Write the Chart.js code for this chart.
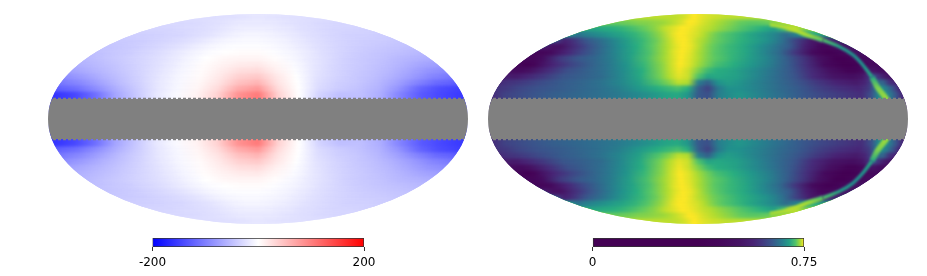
<!DOCTYPE html>
<html>
<head>
<meta charset="utf-8">
<title>Mollweide maps</title>
<script src="https://cdn.jsdelivr.net/npm/chart.js@4"></script>
<style>
    body { margin: 0; background: #fff; }
    canvas { position: absolute; }
</style>
</head>
<body>
<canvas id="leftMap" width="436" height="226" style="left:40px;top:6px"></canvas>
<canvas id="rightMap" width="436" height="226" style="left:480px;top:6px"></canvas>
<canvas id="leftBar" width="280" height="38" style="left:120px;top:230px"></canvas>
<canvas id="rightBar" width="280" height="38" style="left:560px;top:230px"></canvas>
<script>
// Mollweide y of each row, north side only (the south side is drawn from the same rows)
const rowY = [0.971, 0.914, 0.857, 0.8, 0.743, 0.686, 0.629, 0.571, 0.514, 0.457, 0.4, 0.343, 0.286, 0.229];

// Left map: longitude as a fraction of the row half width
const leftLon = [-1, -0.9, -0.8, -0.7, -0.6, -0.5, -0.4, -0.3, -0.2, -0.1, 0, 0.1, 0.2, 0.3, 0.4, 0.5, 0.6, 0.7, 0.8, 0.9, 1];
const leftRows = [
    [-26, -26, -25, -25, -24, -24, -23, -22, -21, -20, -20, -20, -21, -21, -22, -23, -23, -24, -24, -25, -26],
    [-30, -30, -29, -28, -26, -24, -22, -20, -18, -17, -17, -18, -19, -21, -23, -25, -27, -29, -30, -31, -32],
    [-33, -33, -32, -30, -28, -26, -23, -19, -15, -13, -13, -14, -17, -20, -24, -27, -30, -32, -33, -34, -35],
    [-38, -37, -35, -33, -31, -27, -23, -17, -12, -9, -9, -11, -14, -19, -24, -28, -32, -35, -36, -37, -39],
    [-42, -41, -38, -34, -30, -25, -19, -12, -7, -5, -5, -8, -12, -18, -24, -30, -34, -37, -39, -41, -44],
    [-46, -43, -39, -34, -28, -22, -14, -7, -3, -2, -2, -5, -10, -17, -25, -31, -36, -40, -43, -46, -49],
    [-50, -45, -40, -33, -27, -18, -10, -3, 1, 3, 3, -2, -8, -16, -26, -33, -39, -44, -48, -52, -56],
    [-55, -48, -41, -34, -27, -18, -9, 0, 6, 9, 9, 2, -6, -17, -27, -36, -42, -47, -54, -60, -64],
    [-62, -54, -46, -37, -28, -18, -8, 2, 10, 16, 17, 7, -4, -18, -29, -38, -44, -51, -60, -70, -76],
    [-72, -62, -52, -41, -30, -18, -7, 3, 14, 25, 28, 12, -2, -20, -31, -40, -47, -56, -68, -82, -90],
    [-88, -75, -60, -46, -32, -18, -6, 4, 18, 36, 42, 18, -1, -22, -33, -42, -50, -62, -78, -95, -105],
    [-105, -92, -72, -52, -35, -18, -6, 6, 22, 48, 58, 22, 0, -25, -37, -44, -55, -72, -95, -115, -125],
    [-125, -112, -88, -62, -40, -20, -6, 8, 28, 65, 80, 28, 0, -28, -40, -48, -60, -85, -120, -140, -150],
    [-160, -145, -115, -72, -45, -20, -5, 10, 35, 85, 105, 35, 0, -35, -50, -50, -65, -100, -130, -145, -155]
];

// Right map: colour position 0-100 along the viridis ramp
const rightLon = [-1, -0.95, -0.9, -0.8, -0.7, -0.6, -0.5, -0.4, -0.3, -0.2, -0.15, -0.1, -0.05, 0, 0.05, 0.1, 0.15, 0.2, 0.3, 0.4, 0.5, 0.6, 0.7, 0.8, 0.85, 0.88, 0.91, 0.94, 0.97, 1];
const rightRows = [
    [90, 90, 90, 90, 90, 90, 90, 91, 93, 96, 98, 100, 100, 98, 97, 96, 95, 94, 93, 92, 91, 90, 90, 90, 90, 90, 90, 90, 90, 90],
    [76, 76, 77, 78, 80, 81, 83, 85, 89, 94, 97, 100, 99, 97, 94, 92, 90, 88, 84, 80, 76, 74, 74, 76, 78, 80, 82, 84, 86, 88],
    [58, 58, 60, 62, 65, 70, 76, 82, 91, 97, 100, 99, 97, 94, 91, 89, 86, 83, 78, 72, 67, 62, 56, 70, 85, 88, 88, 85, 82, 80],
    [45, 38, 42, 47, 53, 58, 65, 73, 83, 96, 100, 99, 96, 93, 88, 82, 77, 73, 67, 60, 53, 46, 35, 45, 55, 60, 60, 60, 55, 50],
    [18, 10, 14, 26, 35, 45, 56, 66, 77, 91, 98, 100, 96, 90, 85, 79, 75, 71, 64, 57, 49, 37, 20, 8, 6, 8, 10, 10, 10, 10],
    [8, 5, 5, 15, 26, 38, 50, 62, 75, 88, 95, 100, 97, 90, 82, 76, 71, 67, 60, 50, 40, 28, 10, 2, 2, 3, 4, 4, 6, 6],
    [2, 2, 3, 12, 23, 34, 46, 58, 71, 86, 95, 100, 96, 88, 81, 74, 70, 66, 58, 46, 34, 16, 3, 0, 1, 2, 3, 4, 5, 5],
    [2, 2, 4, 18, 27, 33, 42, 55, 70, 85, 93, 100, 95, 88, 80, 74, 70, 65, 55, 45, 32, 18, 5, 0, 0, 1, 2, 3, 3, 3],
    [2, 0, 2, 12, 21, 30, 39, 51, 66, 82, 92, 100, 95, 86, 78, 70, 66, 62, 52, 42, 29, 15, 3, 0, 0, 1, 2, 3, 3, 3],
    [4, 3, 5, 14, 24, 30, 37, 48, 62, 80, 90, 98, 92, 80, 68, 62, 60, 57, 47, 38, 27, 14, 5, 1, 1, 3, 6, 6, 4, 4],
    [9, 8, 11, 18, 26, 30, 35, 46, 60, 78, 88, 96, 92, 72, 58, 60, 58, 56, 46, 36, 26, 13, 6, 4, 6, 12, 25, 15, 8, 6],
    [14, 16, 18, 23, 28, 32, 37, 45, 56, 72, 80, 90, 88, 42, 30, 50, 55, 52, 43, 35, 27, 18, 11, 8, 12, 22, 35, 32, 15, 12],
    [16, 18, 21, 25, 28, 32, 36, 42, 52, 62, 66, 70, 62, 30, 20, 40, 50, 50, 43, 35, 28, 20, 15, 12, 18, 35, 50, 40, 25, 12],
    [14, 20, 22, 26, 30, 33, 36, 40, 46, 54, 58, 60, 52, 28, 24, 42, 48, 52, 44, 36, 28, 22, 18, 14, 25, 45, 55, 40, 25, 12]
];

// Right map: the thin bright arc near the right edge (axis units, colour position)
const arcX = [0.686, 0.876, 1.038, 1.19, 1.352, 1.476, 1.571, 1.657, 1.714, 1.781, 1.81];
const arcY = [0.905, 0.867, 0.8, 0.752, 0.686, 0.61, 0.514, 0.4, 0.295, 0.21, 0.17];
const arcColourPos = [84, 90, 86, 72, 55, 48, 50, 60, 80, 84, 84];

// Colour bars
const leftBarTicks = [-200, 200];
const leftBarStops = [-200, 0, 200];
const rightBarTicks = [0, 0.75];
const rightBarStops = [0, 0.375, 0.45, 0.525, 0.57, 0.6, 0.6375, 0.675, 0.6975, 0.72, 0.735, 0.75];
const rightBarColourPos = [0, 0, 2, 6, 11, 17, 27, 43, 56, 72, 85, 100];

const viridis = ['#440154', '#482878', '#3b528b', '#2c728e', '#21918c', '#28ae80', '#5ec962', '#addc30', '#fde725'];
const maskColour = '#808080';

function hexToRgb(hex) {
    return [1, 3, 5].map(i => parseInt(hex.substr(i, 2), 16));
}

// colour position 0-100 -> viridis
function viridisColour(pos) {
    const p = Math.max(0, Math.min(100, pos)) / 100 * (viridis.length - 1);
    const i = Math.min(Math.floor(p), viridis.length - 2);
    const a = hexToRgb(viridis[i]);
    const b = hexToRgb(viridis[i + 1]);
    const rgb = a.map((c, k) => Math.round(c + (b[k] - c) * (p - i)));
    return `rgb(${rgb.join(',')})`;
}

// value -200..200 -> blue, white, red
function bwrColour(v) {
    const c = Math.round(255 * (1 - Math.min(Math.abs(v), 200) / 200));
    return v < 0 ? `rgb(${c},${c},255)` : `rgb(255,${c},${c})`;
}

// Each row is a thick line whose stroke is a gradient with one stop per reading
function rowGradient(context, lon, values, halfWidth, colourFn) {
    const chart = context.chart;
    if (!chart.chartArea) return '#ffffff';
    const xScale = chart.scales.x;
    const x0 = xScale.getPixelForValue(-halfWidth);
    const x1 = xScale.getPixelForValue(halfWidth);
    const gradient = chart.ctx.createLinearGradient(x0, 0, x1, 0);
    lon.forEach((f, i) => gradient.addColorStop((f + 1) / 2, colourFn(values[i])));
    return gradient;
}

// The stroke runs on towards the equator so the next row is painted over it
function rowDataset(y, side, lon, values, colourFn, width, order) {
    const halfWidth = 2 * Math.sqrt(1 - y * y);
    const drawY = side * y - side * (width - 7) / 2 / 105;
    return {
        data: [{ x: -2, y: drawY }, ...lon.map(f => ({ x: f * halfWidth, y: drawY })), { x: 2, y: drawY }],
        borderColor: context => rowGradient(context, lon, values, halfWidth, colourFn),
        borderWidth: width,
        order: order
    };
}

function arcGradient(context, side) {
    const chart = context.chart;
    if (!chart.chartArea) return '#ffffff';
    const yScale = chart.scales.y;
    const first = arcY[0];
    const last = arcY[arcY.length - 1];
    const gradient = chart.ctx.createLinearGradient(0, yScale.getPixelForValue(side * first), 0, yScale.getPixelForValue(side * last));
    arcY.forEach((y, i) => gradient.addColorStop((first - y) / (first - last), viridisColour(arcColourPos[i])));
    return gradient;
}

// start/end pick a stretch of the arc, it is wider at both ends than in the middle
function arcDataset(side, start, end, width) {
    return {
        data: arcX.slice(start, end + 1).map((x, i) => ({ x: x, y: side * arcY[start + i] })),
        borderColor: context => arcGradient(context, side),
        borderWidth: width,
        tension: 0.3,
        blurPx: 1,
        order: 1
    };
}

function maskDatasets() {
    const line = (y, width, dash) => ({
        data: [{ x: -2, y: y }, { x: 2, y: y }],
        borderColor: maskColour,
        borderWidth: width,
        borderDash: dash,
        isMask: true,
        order: 0
    });
    return [line(0, 40, []), line(0.195, 1.5, [3, 2]), line(-0.195, 1.5, [3, 2])];
}

// The map outline clips all rows to the ellipse, a small blur hides the row steps
const mapPainter = {
    id: 'mapPainter',
    beforeDatasetsDraw(chart) {
        const { ctx, chartArea } = chart;
        ctx.save();
        ctx.beginPath();
        ctx.ellipse((chartArea.left + chartArea.right) / 2, (chartArea.top + chartArea.bottom) / 2,
            chartArea.width / 2, chartArea.height / 2, 0, 0, Math.PI * 2);
        ctx.clip();
    },
    beforeDatasetDraw(chart, args) {
        const dataset = chart.data.datasets[args.index];
        if (!dataset.isMask) chart.ctx.filter = `blur(${dataset.blurPx || 1.6}px)`;
    },
    afterDatasetDraw(chart) {
        chart.ctx.filter = 'none';
    },
    afterDatasetsDraw(chart) {
        chart.ctx.restore();
    }
};

function drawMap(id, lon, rows, colourFn, extraDatasets) {
    const datasets = maskDatasets().concat(extraDatasets);
    rowY.forEach((y, i) => {
        // poles painted first, then towards the equator, mask on top
        datasets.push(rowDataset(y, 1, lon, rows[i], colourFn, 21, 100 - i));
        datasets.push(rowDataset(y, -1, lon, rows[i], colourFn, 21, 100 - i));
    });
    // the polar cap above the first row
    datasets.push(rowDataset(0.985, 1, lon, rows[0], colourFn, 7, 200));
    datasets.push(rowDataset(0.985, -1, lon, rows[0], colourFn, 7, 200));
    new Chart(document.getElementById(id), {
        type: 'scatter',
        data: { datasets: datasets },
        plugins: [mapPainter],
        options: {
            responsive: false,
            animation: false,
            showLine: true,
            layout: { padding: 8 },
            elements: { point: { radius: 0 }, line: { tension: 0, borderCapStyle: 'butt' } },
            plugins: { legend: { display: false }, tooltip: { enabled: false } },
            scales: {
                x: { min: -2, max: 2, display: false },
                y: { min: -1, max: 1, display: false }
            }
        }
    });
}

function drawColourBar(id, ticks, stops, colourFn) {
    const min = ticks[0];
    const max = ticks[ticks.length - 1];
    new Chart(document.getElementById(id), {
        type: 'bar',
        data: {
            labels: [''],
            datasets: [{
                data: [[min, max]],
                backgroundColor: context => {
                    const chart = context.chart;
                    if (!chart.chartArea) return '#ffffff';
                    const gradient = chart.ctx.createLinearGradient(chart.chartArea.left, 0, chart.chartArea.right, 0);
                    stops.forEach((v, i) => gradient.addColorStop((v - min) / (max - min), colourFn(v, i)));
                    return gradient;
                },
                borderColor: '#333333',
                borderWidth: 1,
                borderSkipped: false,
                barPercentage: 1,
                categoryPercentage: 1
            }]
        },
        options: {
            responsive: false,
            animation: false,
            indexAxis: 'y',
            layout: { padding: { left: 32.5, right: 36, top: 8, bottom: 0 } },
            plugins: { legend: { display: false }, tooltip: { enabled: false } },
            scales: {
                y: { display: false },
                x: {
                    type: 'linear',
                    min: min,
                    max: max,
                    afterBuildTicks: axis => { axis.ticks = ticks.map(v => ({ value: v })); },
                    afterFit: axis => { axis.height = 21; },
                    grid: { drawOnChartArea: false, tickLength: 4, color: '#333333' },
                    border: { display: false },
                    ticks: {
                        autoSkip: false,
                        maxRotation: 0,
                        padding: 5,
                        color: '#000000',
                        font: { family: 'DejaVu Sans', size: 12 },
                        callback: v => String(v)
                    }
                }
            }
        }
    });
}

const arcDatasets = [];
[1, -1].forEach(side => {
    arcDatasets.push(arcDataset(side, 0, 3, 4.5));
    arcDatasets.push(arcDataset(side, 3, 7, 3.5));
    arcDatasets.push(arcDataset(side, 7, 10, 5.5));
});

drawMap('leftMap', leftLon, leftRows, bwrColour, []);
drawMap('rightMap', rightLon, rightRows, viridisColour, arcDatasets);
drawColourBar('leftBar', leftBarTicks, leftBarStops, v => bwrColour(v));
drawColourBar('rightBar', rightBarTicks, rightBarStops, (v, i) => viridisColour(rightBarColourPos[i]));
</script>
</body>
</html>
